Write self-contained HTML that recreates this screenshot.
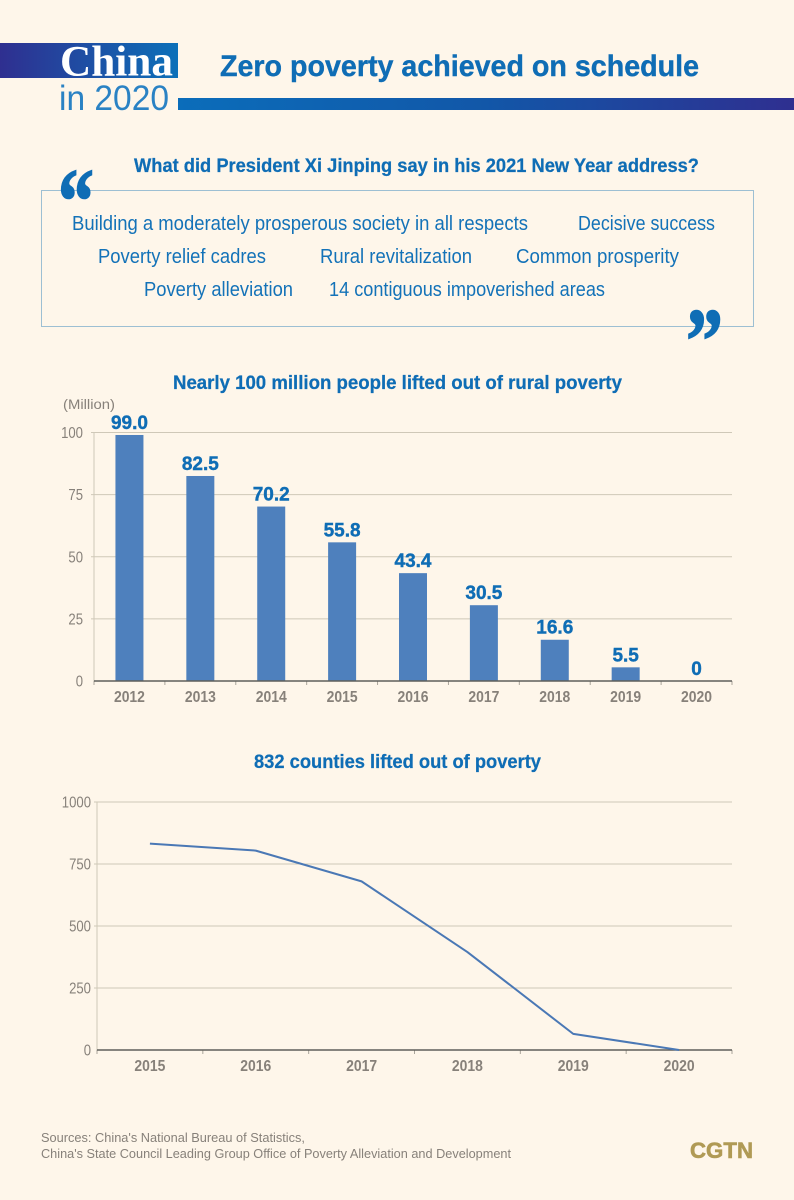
<!DOCTYPE html>
<html lang="en">
<head>
<meta charset="utf-8">
<title>Zero poverty achieved on schedule</title>
<style>
html,body{margin:0;padding:0;background:#fef6ea;}
svg{display:block;font-family:"Liberation Sans",sans-serif;}
</style>
</head>
<body>
<svg id="page" width="794" height="1200" viewBox="0 0 794 1200" xmlns="http://www.w3.org/2000/svg">
<defs>
<linearGradient id="g1" x1="0" x2="1" y1="0" y2="0"><stop offset="0" stop-color="#2f2f90"/><stop offset="1" stop-color="#0c70b9"/></linearGradient>
<linearGradient id="g2" x1="0" x2="1" y1="0" y2="0"><stop offset="0" stop-color="#0b6dba"/><stop offset="0.5" stop-color="#1257a8"/><stop offset="1" stop-color="#2f2f90"/></linearGradient>
</defs>
<rect width="794" height="1200" fill="#fef6ea"/>

<g>
<rect x="0" y="43" width="178" height="35" fill="url(#g1)"/>
<text x="60" y="75.5" font-family="'Liberation Serif',serif" font-weight="700" font-size="43" fill="#fff" textLength="113" lengthAdjust="spacingAndGlyphs">China</text>
<text x="59" y="110" font-size="35" fill="#2a82c4" textLength="110" lengthAdjust="spacingAndGlyphs">in 2020</text>
<rect x="178" y="98" width="616" height="12" fill="url(#g2)"/>
<text x="220" y="76" font-weight="700" font-size="30" fill="#0f6db5" stroke="#0f6db5" stroke-width="0.4" textLength="479" lengthAdjust="spacingAndGlyphs">Zero poverty achieved on schedule</text>
</g>

<g>
<text x="134" y="172" font-weight="700" font-size="19" fill="#0f6db5" stroke="#0f6db5" stroke-width="0.25" textLength="565" lengthAdjust="spacingAndGlyphs">What did President Xi Jinping say in his 2021 New Year address?</text>
<rect x="41.5" y="190.5" width="712" height="136" fill="none" stroke="#9dbfd3" stroke-width="1"/>
<text x="58" y="232" font-family="'Liberation Serif',serif" font-weight="700" font-size="92" fill="#0f6db5" stroke="#0f6db5" stroke-width="1.5" textLength="36" lengthAdjust="spacingAndGlyphs">“</text>
<text x="686" y="372" font-family="'Liberation Serif',serif" font-weight="700" font-size="92" fill="#0f6db5" stroke="#0f6db5" stroke-width="1.5" textLength="37" lengthAdjust="spacingAndGlyphs">”</text>
<g font-size="20" fill="#1372b8">
<text x="72" y="230" textLength="456" lengthAdjust="spacingAndGlyphs">Building a moderately prosperous society in all respects</text>
<text x="578" y="230" textLength="137" lengthAdjust="spacingAndGlyphs">Decisive success</text>
<text x="98" y="263" textLength="168" lengthAdjust="spacingAndGlyphs">Poverty relief cadres</text>
<text x="320" y="263" textLength="152" lengthAdjust="spacingAndGlyphs">Rural revitalization</text>
<text x="516" y="263" textLength="163" lengthAdjust="spacingAndGlyphs">Common prosperity</text>
<text x="144" y="296" textLength="149" lengthAdjust="spacingAndGlyphs">Poverty alleviation</text>
<text x="329" y="296" textLength="276" lengthAdjust="spacingAndGlyphs">14 contiguous impoverished areas</text>
</g>
</g>

<text x="173" y="389" font-weight="700" font-size="19" fill="#0f6db5" stroke="#0f6db5" stroke-width="0.25" textLength="449" lengthAdjust="spacingAndGlyphs">Nearly 100 million people lifted out of rural poverty</text>
<text x="63" y="409" font-size="14" fill="#87817a" textLength="52" lengthAdjust="spacingAndGlyphs">(Million)</text>
<g id="bar-chart"></g>

<text x="254" y="768" font-weight="700" font-size="19" fill="#0f6db5" stroke="#0f6db5" stroke-width="0.25" textLength="287" lengthAdjust="spacingAndGlyphs">832 counties lifted out of poverty</text>
<g id="line-chart"></g>

<g font-size="13" fill="#87817a">
<text x="41" y="1142" textLength="264" lengthAdjust="spacingAndGlyphs">Sources: China's National Bureau of Statistics,</text>
<text x="41" y="1158" textLength="470" lengthAdjust="spacingAndGlyphs">China's State Council Leading Group Office of Poverty Alleviation and Development</text>
</g>
<text x="690" y="1158" font-weight="700" font-size="22" fill="#b09a55" stroke="#b09a55" stroke-width="0.6" textLength="63" lengthAdjust="spacingAndGlyphs">CGTN</text>
</svg>

<script>
var barCategories = ['2012','2013','2014','2015','2016','2017','2018','2019','2020'];
var barValues = [99.0,82.5,70.2,55.8,43.4,30.5,16.6,5.5,0];
var barValueLabels = ['99.0','82.5','70.2','55.8','43.4','30.5','16.6','5.5','0'];
var barTicks = [0,25,50,75,100];
var lineCategories = ['2015','2016','2017','2018','2019','2020'];
var lineValues = [832,804,680,395,65,0];
var lineTicks = [0,250,500,750,1000];

var NS = 'http://www.w3.org/2000/svg';
function mk(parent, tag, attrs, txt) {
  var el = document.createElementNS(NS, tag);
  for (var k in attrs) el.setAttribute(k, attrs[k]);
  if (txt !== undefined) el.textContent = txt;
  parent.appendChild(el);
  return el;
}

function frame(g, x0, x1, yZero, yTop, maxV, ticks, cats, labelGap) {
  var band = (x1 - x0) / cats.length;
  var y = function (v) { return yZero - (v / maxV) * (yZero - yTop); };
  ticks.forEach(function (t) {
    var yy = y(t);
    if (t !== 0) {
      var grid = mk(g, 'line', {x1: x0 - 3, x2: x1, y1: yy, y2: yy, stroke: '#cfc8b8', 'stroke-width': 1});
      
      
    }
    var s = String(t);
    var lab = mk(g, 'text', {x: x0 - labelGap, y: yy + 5.5, 'text-anchor': 'end', 'font-size': 15.5, fill: '#87817a', textLength: s.length * 7.3, lengthAdjust: 'spacingAndGlyphs'}, s);
    
    
  });
  var yAxis = mk(g, 'line', {x1: x0, x2: x0, y1: yTop, y2: yZero, stroke: '#cfc8b8', 'stroke-width': 1});
  
  
  cats.forEach(function (c, i) {
    var lab = mk(g, 'text', {x: x0 + band * (i + 0.5), y: yZero + 21, 'text-anchor': 'middle', 'font-size': 15.5, 'font-weight': 700, fill: '#87817a', textLength: 31, lengthAdjust: 'spacingAndGlyphs'}, c);
    
    
  });
  for (var i = 0; i <= cats.length; i++) {
    var tick = mk(g, 'line', {x1: x0 + band * i, x2: x0 + band * i, y1: yZero, y2: yZero + 4, stroke: '#a9a49a', 'stroke-width': 1});
    
    
  }
  return {band: band, y: y};
}

function axisLine(g, x0, x1, yZero) {
  var axis = mk(g, 'line', {x1: x0, x2: x1, y1: yZero, y2: yZero, stroke: '#5f5f5a', 'stroke-width': 1.5});
  
  
}

(function () {
  var g = document.getElementById('bar-chart');
  var x0 = 94, x1 = 732, yZero = 681, yTop = 432.5;
  var f = frame(g, x0, x1, yZero, yTop, 100, barTicks, barCategories, 11);
  barValues.forEach(function (v, i) {
    var cx = x0 + f.band * (i + 0.5);
    var top = f.y(v);
    var bar = mk(g, 'rect', {x: cx - 14, y: top, width: 28, height: yZero - top, fill: '#4e80bd'});
    
    
    var lab = mk(g, 'text', {x: cx, y: top - 6, 'text-anchor': 'middle', 'font-size': 19, 'font-weight': 700, fill: '#0f6db5', stroke: '#0f6db5', 'stroke-width': 0.4}, barValueLabels[i]);
    
    
  });
  axisLine(g, x0, x1, yZero);
})();

(function () {
  var g = document.getElementById('line-chart');
  var x0 = 97, x1 = 732, yZero = 1050, yTop = 802;
  var f = frame(g, x0, x1, yZero, yTop, 1000, lineTicks, lineCategories, 6);
  axisLine(g, x0, x1, yZero);
  var pts = lineValues.map(function (v, i) {
    return (x0 + f.band * (i + 0.5)) + ',' + f.y(v);
  }).join(' ');
  var line = mk(g, 'polyline', {points: pts, fill: 'none', stroke: '#4a78b5', 'stroke-width': 2, 'stroke-linejoin': 'round'});
  
  
})();
</script>
</body>
</html>
